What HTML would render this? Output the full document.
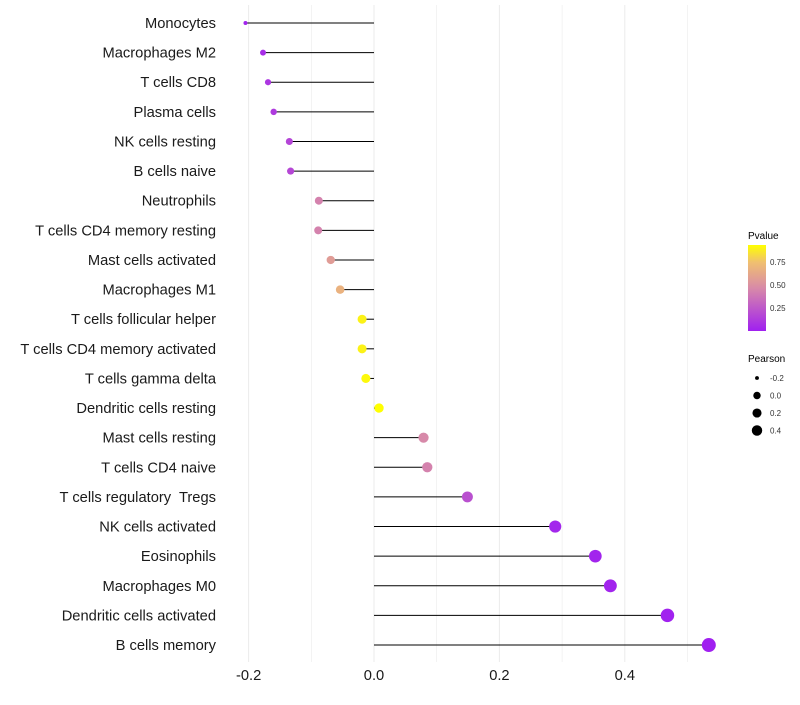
<!DOCTYPE html>
<html><head><meta charset="utf-8"><style>
body{margin:0;background:#fff;font-family:"Liberation Sans",sans-serif;}
svg text{font-family:"Liberation Sans",sans-serif;white-space:pre;}
</style></head><body>
<svg id="chart" width="800" height="700" xmlns="http://www.w3.org/2000/svg">
<defs><linearGradient id="pgrad" x1="0" y1="1" x2="0" y2="0">
<stop offset="0" stop-color="#a020f0"/><stop offset="0.5" stop-color="#d88aa8"/><stop offset="0.8" stop-color="#f0c070"/><stop offset="1" stop-color="#ffff00"/></linearGradient></defs>
<g id="grid"></g>
<g id="marks"></g>
<g id="labels"></g>
<g id="xticks"></g>
<g>
<text x="748" y="239" font-size="10">Pvalue</text>
<rect x="748" y="245" width="18" height="86" fill="url(#pgrad)"/>
<text x="770" y="265" font-size="8" fill="#333">0.75</text>
<text x="770" y="288" font-size="8" fill="#333">0.50</text>
<text x="770" y="311" font-size="8" fill="#333">0.25</text>
</g>
<g id="sizeleg">
<text x="748" y="362" font-size="10">Pearson</text>
</g>
</svg>
<script>
const cells=["Monocytes","Macrophages M2","T cells CD8","Plasma cells","NK cells resting","B cells naive","Neutrophils","T cells CD4 memory resting","Mast cells activated","Macrophages M1","T cells follicular helper","T cells CD4 memory activated","T cells gamma delta","Dendritic cells resting","Mast cells resting","T cells CD4 naive","T cells regulatory  Tregs","NK cells activated","Eosinophils","Macrophages M0","Dendritic cells activated","B cells memory"];
const pearson=[-0.205,-0.177,-0.169,-0.160,-0.135,-0.133,-0.088,-0.089,-0.069,-0.054,-0.019,-0.019,-0.013,0.008,0.079,0.085,0.149,0.289,0.353,0.377,0.468,0.534];
const pvalue=[0.02,0.06,0.1,0.12,0.17,0.18,0.45,0.45,0.58,0.7,0.93,0.93,0.95,0.97,0.48,0.45,0.22,0.03,0.02,0.02,0.01,0.0];
const xTicks=[-0.2,0,0.2,0.4];
const xTickLabels=["-0.2","0.0","0.2","0.4"];
const sizeLegVals=[-0.2,0,0.2,0.4];
const NS="http://www.w3.org/2000/svg";
const xs=v=>374+v*627;
const ys=i=>23+i*29.62;
const rs=v=>2+5*Math.sqrt(Math.max(0,(v+0.205)/0.74));
function col(p){const s=[[0,[160,32,240]],[0.5,[216,138,168]],[0.8,[240,192,112]],[1,[255,255,0]]];let t=Math.min(1,p/0.97);
for(let k=1;k<s.length;k++){if(t<=s[k][0]){const a=s[k-1],b=s[k];const f=(t-a[0])/(b[0]-a[0]);return `rgb(${a[1].map((c,j)=>Math.round(c+(b[1][j]-c)*f)).join(",")})`;}}return "rgb(255,255,0)";}
function mk(tag,at,parent){const e=document.createElementNS(NS,tag);for(const k in at)e.setAttribute(k,at[k]);parent.appendChild(e);return e;}
const grid=document.getElementById('grid');
for(let g=-0.2;g<=0.55;g+=0.1){const l=mk('line',{x1:xs(g),x2:xs(g),y1:5,y2:662,stroke:'#ebebeb','stroke-width':Math.abs(Math.round(g*10))%2?0.6:1},grid);

}
const marks=document.getElementById('marks'),labels=document.getElementById('labels');
cells.forEach((c,i)=>{const y=ys(i);
const seg=mk('line',{x1:xs(0),x2:xs(pearson[i]),y1:y,y2:y,stroke:'#000','stroke-width':1},marks);


const dot=mk('circle',{cx:xs(pearson[i]),cy:y,r:rs(pearson[i]),fill:col(pvalue[i])},marks);


const t=mk('text',{x:216,y:y+5,'text-anchor':'end','font-size':14.7,fill:'#1a1a1a'},labels);t.textContent=c;

});
const xt=document.getElementById('xticks');
xTicks.forEach((v,i)=>{const t=mk('text',{x:xs(v),y:680,'text-anchor':'middle','font-size':14.7,fill:'#1a1a1a'},xt);t.textContent=xTickLabels[i];

});
const sl=document.getElementById('sizeleg');
sizeLegVals.forEach((v,i)=>{const y=378+i*17.5;const c=mk('circle',{cx:757,cy:y,r:rs(v)*0.8,fill:'#000'},sl);


const t=mk('text',{x:770,y:y+3,'font-size':8,fill:'#333'},sl);t.textContent=v===0?"0.0":String(v);

});
</script>
</body></html>
